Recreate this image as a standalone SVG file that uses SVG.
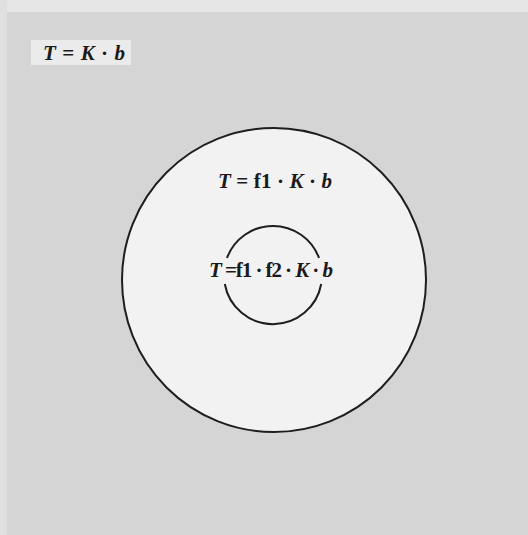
<svg xmlns="http://www.w3.org/2000/svg" width="528" height="535" viewBox="0 0 528 535">
<style>
.eq{font-family:"Liberation Serif","DejaVu Serif",serif;font-weight:bold;font-size:21px;fill:#1a1a1a}
.v{font-style:italic}
.ring{fill:#f2f2f2;stroke:#1e1e1e;stroke-width:2}
.arc{fill:none;stroke:#1e1e1e;stroke-width:2}
</style>
<rect x="0" y="0" width="528" height="535" fill="#d5d5d5"/>
<rect x="0" y="0" width="528" height="12" fill="#e6e6e6"/>
<rect x="0" y="0" width="7" height="535" fill="#e0e0e0"/>
<g id="outer">
<circle class="ring" cx="274" cy="280" r="152"/>
<text class="eq" x="218" y="188" textLength="114" lengthAdjust="spacing"><tspan class="v">T</tspan> = f1 · <tspan class="v">K</tspan> · <tspan class="v">b</tspan></text>
</g>
<g id="label-top">
<rect x="31" y="40" width="100" height="25" fill="#ebebeb"/>
<text class="eq" x="43" y="60" textLength="82" lengthAdjust="spacing"><tspan class="v">T</tspan> = <tspan class="v">K</tspan> · <tspan class="v">b</tspan></text>
</g>
<g id="inner">
<path class="arc" d="M227,258 A49,49 0 0 1 319,258"/>
<path class="arc" d="M224.8,284 A49,49 0 0 0 321.2,284"/>
<text class="eq" x="209" y="277" textLength="124" lengthAdjust="spacing"><tspan class="v">T</tspan> =f1 · f2 · <tspan class="v">K</tspan> · <tspan class="v">b</tspan></text>
</g>
</svg>
